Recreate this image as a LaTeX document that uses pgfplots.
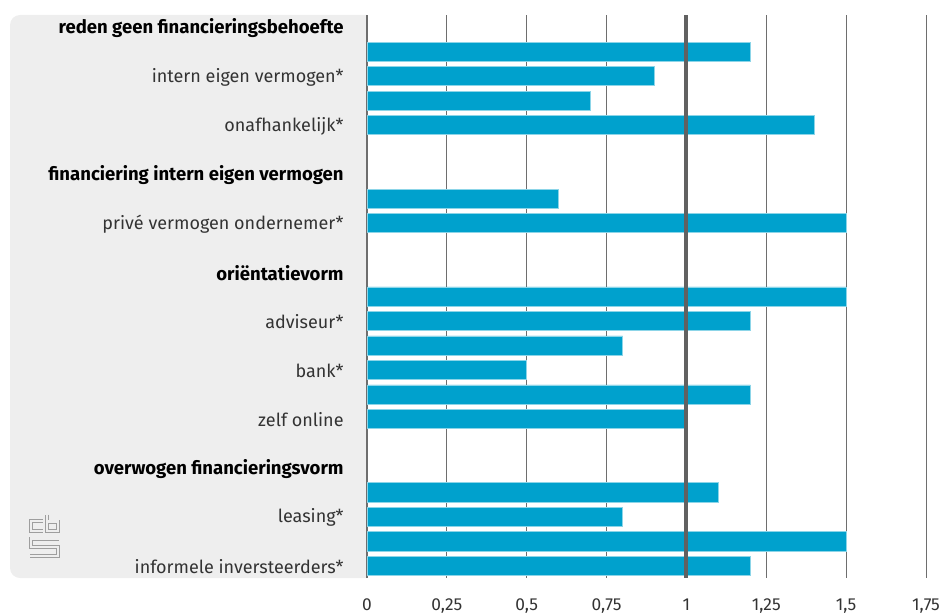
\documentclass[border=0pt]{standalone}
\usepackage{pgfplots}
\pgfplotsset{compat=1.18}
\usepackage{fontspec}
\setmainfont{Fira Sans}[BoldFont={Fira Sans Bold}]
\definecolor{cbsblue}{HTML}{00A1CD}
\definecolor{bggray}{HTML}{EEEEEE}
\definecolor{gridgray}{HTML}{6E6E6E}
\definecolor{labgray}{HTML}{333333}
\newcommand{\hdr}[1]{{\fontsize{13.9}{15}\selectfont\bfseries\color{black}#1}}
\begin{document}
\begin{tikzpicture}
\useasboundingbox (0,0) rectangle (708.75pt,461.25pt);
\begin{scope}[x=0.75pt,y=-0.75pt,yshift=461.25pt]
\fill[bggray] (367,578) [rounded corners=7.5pt] -- (10,578) -- (10,15) [sharp corners] -- (367,15) -- cycle;
\begin{scope}[line width=0.7pt, double distance=1.6pt]
\draw[draw=black!38, double=bggray] (43,521) -- (31,521) -- (31,531) -- (43,531);
\draw[draw=black!38, double=bggray] (47,514.5) -- (47,531) -- (58,531) -- (58,521.5) -- (47,521.5);
\draw[draw=black!38, double=bggray] (58.5,538.5) -- (31,538.5) -- (31,547) -- (58,547) -- (58,556) -- (30,556);
\end{scope}
\end{scope}
\begin{axis}[
  at={(275.25pt,27.75pt)}, anchor=south west,
  scale only axis, width=419.25pt, height=422.25pt,
  xmin=0, xmax=1.75, ymin=-0.5, ymax=22.5, y dir=reverse,
  axis lines*=left,
  x axis line style={draw=none},
  y axis line style={draw=gridgray, line width=1.5pt},
  major tick length=0pt,
  xmajorgrids, grid style={draw=gridgray, line width=0.75pt},
  xtick={0,0.25,0.5,0.75,1,1.25,1.5,1.75},
  xticklabels={0,{0,25},{0,5},{0,75},1,{1,25},{1,5},{1,75}},
  xticklabel style={font=\fontsize{13}{15}\selectfont, text=labgray, yshift=-12pt},
  ytick={0,2,...,22},
  yticklabels={
    \hdr{reden geen financieringsbehoefte},
    intern eigen vermogen*,
    onafhankelijk*,
    \hdr{financiering intern eigen vermogen},
    privé vermogen ondernemer*,
    \hdr{oriëntatievorm},
    adviseur*,
    bank*,
    zelf online,
    \hdr{overwogen financieringsvorm},
    leasing*,
    informele inversteerders*},
  yticklabel style={font=\fontsize{13.5}{15}\selectfont, text=labgray, anchor=east, xshift=-14pt, yshift=-0.8pt},
]
\addplot[xbar, bar width=0.78, fill=cbsblue, draw=cbsblue!45, line width=0.5pt] coordinates {
 (1.2,1) (0.9,2) (0.7,3) (1.4,4)
 (0.6,7) (1.5,8)
 (1.5,11) (1.2,12) (0.8,13) (0.5,14) (1.2,15) (1.0,16)
 (1.1,19) (0.8,20) (1.5,21) (1.2,22)
};
\draw[draw=black!62, line width=3pt] (axis cs:1,-0.5) -- (axis cs:1,22.5);
\end{axis}
\end{tikzpicture}
\end{document}
